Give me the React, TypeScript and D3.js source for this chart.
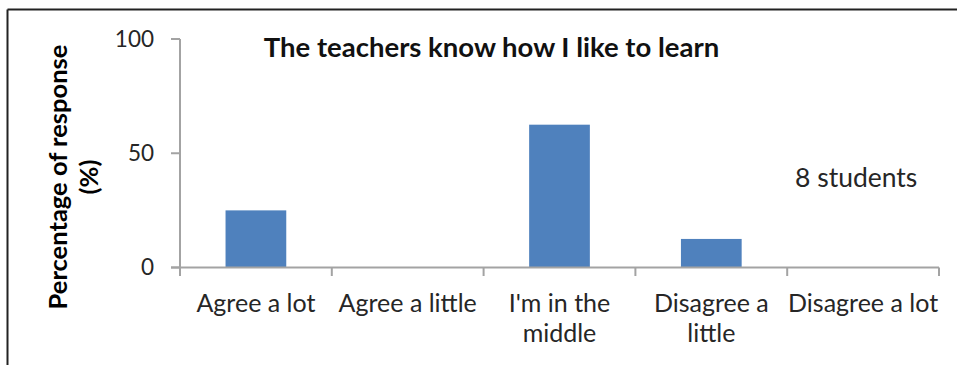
import React from "react";
import * as d3 from "d3";

const categories: string[][] = [
  ["Agree a lot"],
  ["Agree a little"],
  ["I'm in the", "middle"],
  ["Disagree a", "little"],
  ["Disagree a lot"],
];
const categoryKeys = ["Agree a lot", "Agree a little", "I'm in the middle", "Disagree a little", "Disagree a lot"];
const values = [25, 0, 62.5, 12.5, 0];
const yTicks = [0, 50, 100];
const title = "The teachers know how I like to learn";
const yTitle = ["Percentage of response", "(%)"];
const note = "8 students";

const W = 957;
const H = 365;
const FONT = "Lato, 'Open Sans', sans-serif";

export default function App() {
  const x = d3.scaleBand<string>().domain(categoryKeys).range([180, 939]).padding(0);
  const y = d3.scaleLinear().domain([0, 100]).range([267.5, 39]);
  const bw = x.bandwidth() * 0.4;
  const axisColor = "#a3a3a3";
  const boundaries = categoryKeys.map((k) => x(k) as number).concat([939]);

  return (
    <svg width={W} height={H} style={{ position: "absolute", left: 0, top: 0, background: "#fff" }}>
      <rect x={0} y={0} width={W} height={H} fill="#fff" />
      {/* outer border */}
      <line x1={7.5} x2={W} y1={9.5} y2={9.5} stroke="#222" strokeWidth={2} />
      <line x1={7.5} x2={7.5} y1={9.5} y2={H} stroke="#222" strokeWidth={2} />

      {/* bars */}
      {values.map((v, i) => {
        const cx = (x(categoryKeys[i]) as number) + x.bandwidth() / 2;
        return v > 0 ? (
          <rect key={i} x={cx - bw / 2} y={y(v)} width={bw} height={y(0) - y(v)} fill="#4f81bd" />
        ) : null;
      })}

      {/* y axis */}
      <line x1={180} x2={180} y1={y(100)} y2={y(0)} stroke={axisColor} strokeWidth={2} />
      {yTicks.map((t) => (
        <g key={t}>
          <line x1={171} x2={180} y1={y(t)} y2={y(t)} stroke={axisColor} strokeWidth={2} />
          <text x={154} y={y(t)} dy="0.35em" textAnchor="end" fontFamily={FONT} fontSize={22.5} fill="#262626">
            {t}
          </text>
        </g>
      ))}

      {/* x axis */}
      <line x1={171} x2={939} y1={y(0)} y2={y(0)} stroke={axisColor} strokeWidth={2} />
      {boundaries.map((b, i) => (
        <line key={i} x1={b} x2={b} y1={y(0)} y2={276} stroke={axisColor} strokeWidth={2} />
      ))}
      {categories.map((lines, i) => {
        const cx = (x(categoryKeys[i]) as number) + x.bandwidth() / 2;
        return (
          <text key={i} textAnchor="middle" fontFamily={FONT} fontSize={25} fill="#262626">
            {lines.map((l, j) => (
              <tspan key={j} x={cx} y={311.5 + j * 30}>
                {l}
              </tspan>
            ))}
          </text>
        );
      })}

      {/* y title */}
      <g transform="translate(0,177) rotate(-90)">
        {yTitle.map((l, j) => (
          <text key={j} x={0} y={67 + j * 31} textAnchor="middle" fontFamily={FONT} fontWeight="bold" fontSize={25.5} fill="#000">
            {l}
          </text>
        ))}
      </g>

      {/* title */}
      <text x={491.5} y={56.5} textAnchor="middle" fontFamily={FONT} fontWeight="bold" fontSize={27.5} fill="#111">
        {title}
      </text>

      {/* note */}
      <text x={795} y={186.5} fontFamily={FONT} fontSize={26.5} fill="#262626">
        {note}
      </text>
    </svg>
  );
}
